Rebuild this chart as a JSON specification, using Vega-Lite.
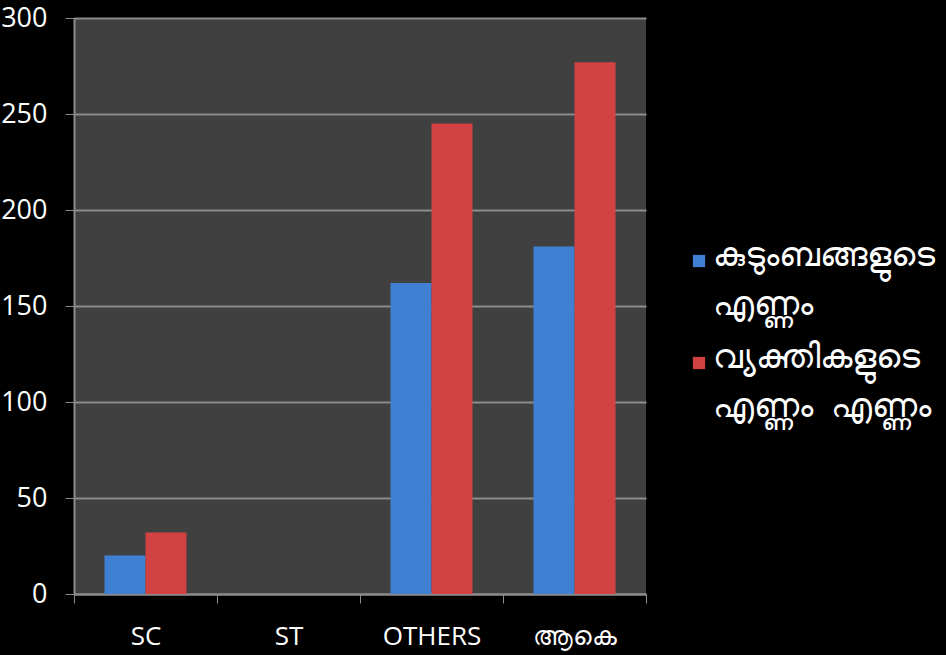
{
  "$schema": "https://vega.github.io/schema/vega-lite/v6.json",
  "autosize": "none",
  "width": 572,
  "height": 576,
  "padding": {"left": 74, "top": 18, "right": 300, "bottom": 61},
  "background": "#000000",
  "config": {
    "view": {"fill": "#404040", "stroke": null},
    "font": "Open Sans"
  },
  "data": {
    "values": [
      {"category": "SC", "series": "കുടുംബങ്ങളുടെ എണ്ണം", "value": 20},
      {"category": "SC", "series": "വ്യക്തികളുടെ എണ്ണം  എണ്ണം", "value": 32},
      {"category": "ST", "series": "കുടുംബങ്ങളുടെ എണ്ണം", "value": 0},
      {"category": "ST", "series": "വ്യക്തികളുടെ എണ്ണം  എണ്ണം", "value": 0},
      {"category": "OTHERS", "series": "കുടുംബങ്ങളുടെ എണ്ണം", "value": 162},
      {"category": "OTHERS", "series": "വ്യക്തികളുടെ എണ്ണം  എണ്ണം", "value": 245},
      {"category": "ആകെ", "series": "കുടുംബങ്ങളുടെ എണ്ണം", "value": 181},
      {"category": "ആകെ", "series": "വ്യക്തികളുടെ എണ്ണം  എണ്ണം", "value": 277}
    ]
  },
  "mark": {"type": "bar"},
  "encoding": {
    "x": {
      "field": "category",
      "type": "nominal",
      "sort": ["SC", "ST", "OTHERS", "ആകെ"],
      "scale": {"paddingInner": 0, "paddingOuter": 0},
      "axis": {
        "title": null,
        "labelAngle": 0,
        "labelColor": "#ffffff",
        "labelFontSize": 26,
        "labelPadding": 20,
        "domainColor": "#8c8c8c",
        "domainWidth": 2,
        "tickColor": "#8c8c8c",
        "tickSize": 9,
        "tickBand": "extent",
        "grid": false
      }
    },
    "xOffset": {"field": "series", "type": "nominal", "sort": ["കുടുംബങ്ങളുടെ എണ്ണം", "വ്യക്തികളുടെ എണ്ണം  എണ്ണം"], "scale": {"paddingInner": 0, "paddingOuter": 0.744}},
    "y": {
      "field": "value",
      "type": "quantitative",
      "scale": {"domain": [0, 300], "nice": false},
      "axis": {
        "title": null,
        "values": [0, 50, 100, 150, 200, 250, 300],
        "labelColor": "#ffffff",
        "labelFontSize": 27,
        "labelPadding": 18,
        "domainColor": "#8c8c8c",
        "domainWidth": 2,
        "tickColor": "#8c8c8c",
        "tickSize": 9,
        "gridColor": "#8c8c8c",
        "gridWidth": 2
      }
    },
    "color": {
      "field": "series",
      "type": "nominal",
      "scale": {"domain": ["കുടുംബങ്ങളുടെ എണ്ണം", "വ്യക്തികളുടെ എണ്ണം  എണ്ണം"], "range": ["#3f80d2", "#d24242"]},
      "legend": {
        "title": null,
        "orient": "none",
        "legendX": 608,
        "legendY": 226,
        "symbolType": "square",
        "symbolSize": 150,
        "symbolStrokeWidth": 0,
        "labelColor": "#ffffff",
        "labelFontSize": 34,
        "labelLimit": 400,
        "labelOffset": 2,
        "rowPadding": 19,
        "labelExpr": "datum.label == 'കുടുംബങ്ങളുടെ എണ്ണം' ? ['കുടുംബങ്ങളുടെ', 'എണ്ണം'] : ['വ്യക്തികളുടെ', 'എണ്ണം\u00a0\u00a0എണ്ണം']",
        "encode": {
          "labels": {"update": {"lineHeight": {"value": 49}, "baseline": {"value": "top"}, "dy": {"value": -22}, "dx": {"value": -5}}}
        }
      }
    }
  }
}
